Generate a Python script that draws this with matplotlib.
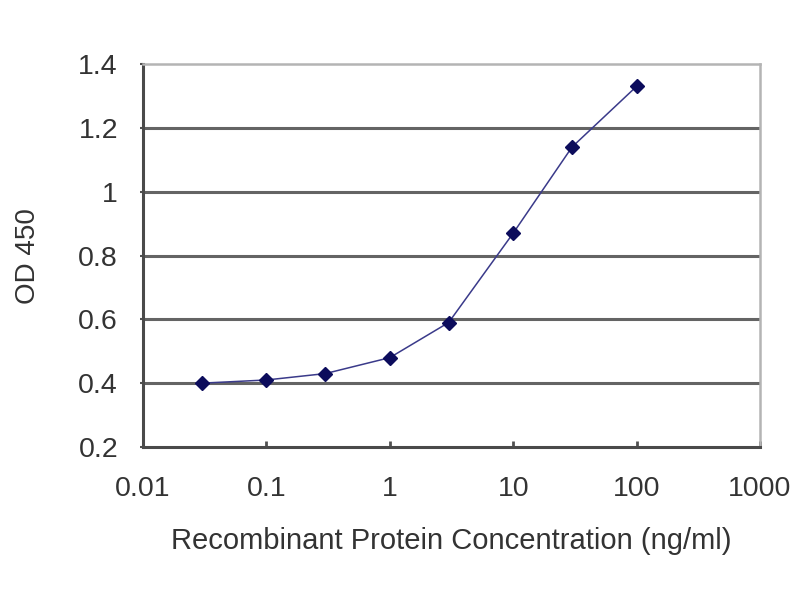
import matplotlib
matplotlib.use('Agg')
import matplotlib.pyplot as plt
from matplotlib.ticker import FixedLocator, NullLocator

# ====================================
# DATA
# ====================================

conc = [0.03, 0.1, 0.3, 1, 3, 10, 30, 100]
od450 = [0.40, 0.41, 0.43, 0.48, 0.59, 0.87, 1.14, 1.33]

x_ticks = [0.01, 0.1, 1, 10, 100, 1000]
x_tick_labels = ['0.01', '0.1', '1', '10', '100', '1000']
y_ticks = [0.2, 0.4, 0.6, 0.8, 1.0, 1.2, 1.4]
y_tick_labels = ['0.2', '0.4', '0.6', '0.8', '1', '1.2', '1.4']

plt.rcParams['font.family'] = ['Liberation Sans', 'DejaVu Sans']

fig = plt.figure(figsize=(8, 6), dpi=100)
ax = fig.add_axes([143/800, 1 - 447/600, (760-143)/800, (447-64)/600])

# grid lines at the y ticks (not at 0.2 / 1.4)
for yv in y_ticks[1:-1]:
    ax.axhline(yv, color='#646464', lw=2.2, zorder=1)

ax.plot(conc, od450, color='#3a3a8a', lw=1.1, zorder=2)
ax.plot(conc, od450, ls='none', marker='D', ms=7, color='#0c0c5c', zorder=3)

ax.set_xscale('log')
ax.set_xlim(0.01, 1000)
ax.set_ylim(0.2, 1.4)

ax.xaxis.set_major_locator(FixedLocator(x_ticks))
ax.xaxis.set_minor_locator(NullLocator())
ax.set_xticklabels(x_tick_labels)
ax.set_yticks(y_ticks)
ax.set_yticklabels(y_tick_labels)

ax.tick_params(axis='x', direction='in', length=4.5, width=2, colors='#505050',
               labelcolor='#333333', labelsize=20.5, pad=21)
ax.tick_params(axis='y', direction='out', length=2, width=1.5, colors='#505050',
               labelcolor='#333333', labelsize=20.5, pad=16)

for side in ['left', 'bottom']:
    ax.spines[side].set_color('#4a4a4a')
    ax.spines[side].set_linewidth(2.2)
for side in ['top', 'right']:
    ax.spines[side].set_color('#b4b4b4')
    ax.spines[side].set_linewidth(1.8)

ax.set_xlabel('Recombinant Protein Concentration (ng/ml)', fontsize=21,
              color='#333333')
ax.xaxis.set_label_coords(0.5, -0.21)

fig.text(28/800, 1 - 256/600, 'OD 450', rotation=90, ha='center', va='center',
         fontsize=20, color='#333333')

plt.savefig('out.png', dpi=100)
